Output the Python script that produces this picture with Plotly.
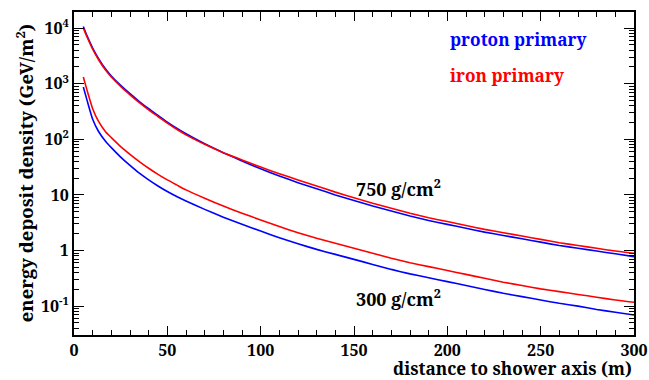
import plotly.graph_objects as go

# distance to shower axis (m)
dist = [5, 7, 10, 13, 17, 20, 25, 30, 35, 40, 45, 50, 55, 60, 70, 80, 90, 100,
        110, 120, 130, 140, 150, 160, 170, 180, 190, 200, 210, 220, 230, 240,
        250, 260, 270, 280, 290, 300]

# log10 of energy deposit density (GeV/m^2)
proton_750_log = [4.03, 3.86, 3.64, 3.46, 3.26, 3.14, 2.97, 2.82, 2.68, 2.55, 2.43, 2.31, 2.20,
                  2.10, 1.92, 1.76, 1.61, 1.47, 1.34, 1.22, 1.11, 1.00, 0.90, 0.80, 0.71, 0.62,
                  0.54, 0.47, 0.40, 0.33, 0.27, 0.21, 0.15, 0.09, 0.04, -0.01, -0.06, -0.11]
iron_750_log = [4.00, 3.84, 3.62, 3.44, 3.24, 3.12, 2.95, 2.80, 2.66, 2.53, 2.41, 2.29, 2.18,
                2.08, 1.91, 1.76, 1.63, 1.50, 1.38, 1.27, 1.16, 1.05, 0.95, 0.85, 0.76, 0.67,
                0.59, 0.52, 0.45, 0.38, 0.32, 0.26, 0.20, 0.14, 0.09, 0.04, -0.01, -0.05]
proton_300_log = [2.94, 2.70, 2.36, 2.15, 1.96, 1.85, 1.68, 1.53, 1.39, 1.27, 1.16, 1.06, 0.97,
                  0.89, 0.74, 0.60, 0.47, 0.35, 0.23, 0.12, 0.02, -0.07, -0.16, -0.25, -0.34, -0.42,
                  -0.49, -0.56, -0.63, -0.70, -0.77, -0.83, -0.89, -0.95, -1.00, -1.06, -1.11, -1.16]
iron_300_log = [3.12, 2.88, 2.55, 2.33, 2.13, 2.03, 1.87, 1.73, 1.60, 1.48, 1.37, 1.27, 1.18,
                1.09, 0.94, 0.80, 0.67, 0.55, 0.43, 0.32, 0.22, 0.13, 0.04, -0.05, -0.14, -0.22,
                -0.29, -0.36, -0.43, -0.50, -0.57, -0.63, -0.69, -0.74, -0.79, -0.84, -0.89, -0.93]

y_tickvals = [0.1, 1, 10, 100, 1000, 10000]
y_ticktext = ["10<sup>-1</sup>", "1", "10", "10<sup>2</sup>", "10<sup>3</sup>", "10<sup>4</sup>"]
x_tickvals = [0, 50, 100, 150, 200, 250, 300]

BLUE = "#0000ff"
RED = "#ff0000"
FONT = "Noto Serif, DejaVu Serif"

def tolin(v):
    return [10 ** a for a in v]

fig = go.Figure()
for yv, col in [(proton_750_log, BLUE), (iron_750_log, RED),
                (proton_300_log, BLUE), (iron_300_log, RED)]:
    fig.add_trace(go.Scatter(x=dist, y=tolin(yv), mode="lines",
                             line=dict(color=col, width=1.6, shape="spline", smoothing=0.5),
                             showlegend=False, hoverinfo="skip"))

minor_y = []
for e in range(-2, 5):
    for m in range(2, 10):
        minor_y.append(m * 10 ** e)

fig.update_layout(
    template="none",
    width=649, height=380,
    margin=dict(l=74, r=15, t=12, b=45, autoexpand=False),
    paper_bgcolor="white", plot_bgcolor="white",
    font=dict(family=FONT, size=16, color="black"),
    xaxis=dict(range=[0, 300], showline=True, linewidth=2, linecolor="black",
               mirror="ticks", ticks="inside", ticklen=9, tickwidth=1, tickcolor="black",
               tickvals=x_tickvals, ticktext=["<b>%d</b>" % v for v in x_tickvals],
               showgrid=False, zeroline=False, automargin=False,
               minor=dict(ticks="inside", ticklen=5, dtick=10, showgrid=False, tickcolor="black"),
               tickfont=dict(size=16, family=FONT)),
    yaxis=dict(type="log", range=[-1.52, 4.29], showline=True, linewidth=2, linecolor="black",
               mirror="ticks", ticks="inside", ticklen=10, tickwidth=1, tickcolor="black",
               tickvals=y_tickvals, ticktext=["<b>%s</b>" % t for t in y_ticktext],
               showgrid=False, zeroline=False, automargin=False,
               minor=dict(ticks="inside", ticklen=5, tickvals=minor_y, showgrid=False, tickcolor="black"),
               tickfont=dict(size=16, family=FONT)),
)

fig.add_annotation(text="<b>energy deposit density (GeV/m<sup>2</sup>)</b>",
                   xref="paper", yref="paper", x=-0.088, y=0.5, textangle=-90,
                   showarrow=False, xanchor="center", yanchor="middle",
                   font=dict(size=18.5, family=FONT))
fig.add_annotation(text="<b>distance to shower axis (m)</b>",
                   xref="paper", yref="paper", x=1.0, y=-0.104, showarrow=False,
                   xanchor="right", yanchor="middle", font=dict(size=17.2, family=FONT))
fig.add_annotation(text="<b>proton primary</b>", xref="x", yref="paper", x=200.5, y=0.915,
                   showarrow=False, xanchor="left", yanchor="middle",
                   font=dict(size=17.2, family=FONT, color=BLUE))
fig.add_annotation(text="<b>iron primary</b>", xref="x", yref="paper", x=200.5, y=0.803,
                   showarrow=False, xanchor="left", yanchor="middle",
                   font=dict(size=17.2, family=FONT, color=RED))
fig.add_annotation(text="<b>750 g/cm<sup>2</sup></b>", xref="x", yref="paper", x=150, y=0.455,
                   showarrow=False, xanchor="left", yanchor="middle",
                   font=dict(size=18, family=FONT, color="black"))
fig.add_annotation(text="<b>300 g/cm<sup>2</sup></b>", xref="x", yref="paper", x=150, y=0.115,
                   showarrow=False, xanchor="left", yanchor="middle",
                   font=dict(size=18, family=FONT, color="black"))

fig.write_html("out.html")
